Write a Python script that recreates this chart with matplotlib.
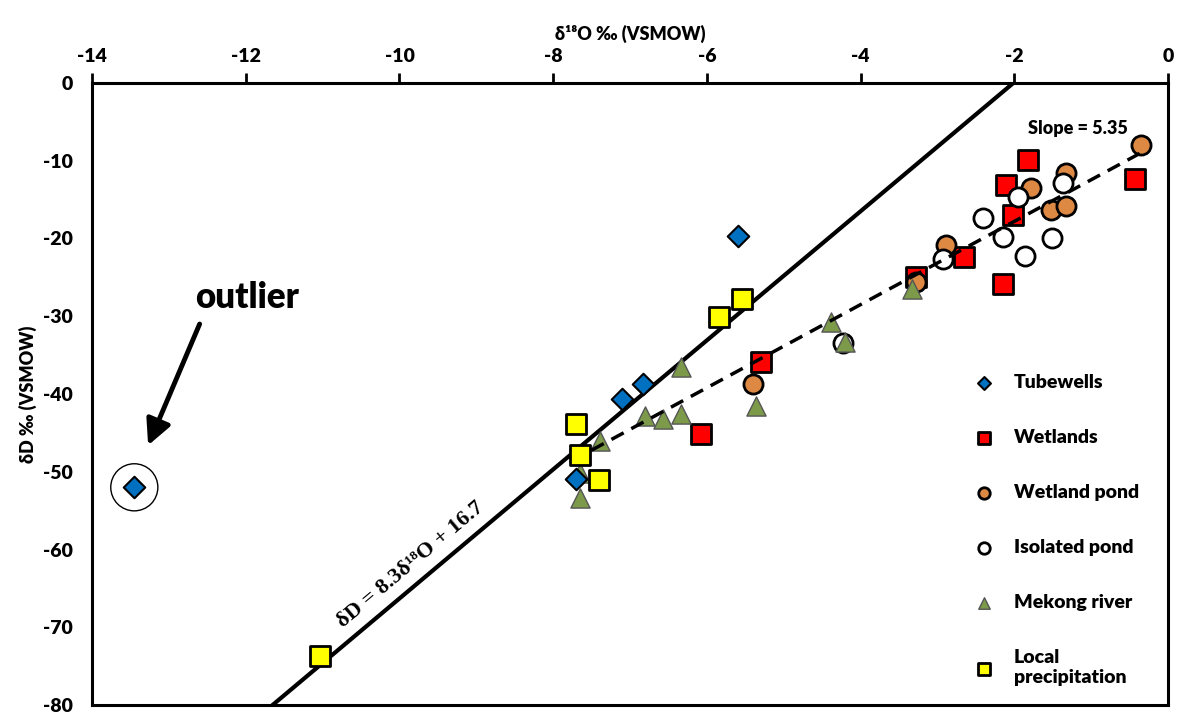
import numpy as np
import matplotlib.pyplot as plt

plt.rcParams['font.family'] = ['Lato', 'DejaVu Sans']
plt.rcParams['font.weight'] = 'heavy'
plt.rcParams['axes.unicode_minus'] = False

# delta-18O (x) and delta-D (y), per mil VSMOW
tube_x = [-5.60, -6.83, -7.10, -7.70, -13.45]
tube_y = [-19.7, -38.7, -40.6, -50.9, -52.0]

wet_x = [-1.82, -2.11, -0.43, -2.02, -2.15, -2.65, -3.28, -5.29, -6.07]
wet_y = [-9.9, -13.1, -12.3, -17.0, -25.9, -22.4, -24.9, -35.9, -45.1]

wpond_x = [-0.35, -1.33, -1.78, -1.52, -1.33, -2.89, -3.28, -5.40]
wpond_y = [-8.0, -11.6, -13.5, -16.3, -15.8, -20.8, -25.6, -38.7]

ipond_x = [-1.37, -1.95, -2.41, -2.15, -1.51, -1.86, -2.93, -4.23]
ipond_y = [-12.9, -14.6, -17.3, -19.8, -19.9, -22.3, -22.6, -33.4]

mek_x = [-3.33, -4.38, -4.20, -5.36, -6.33, -6.33, -6.57, -6.80, -7.39, -7.65, -7.65]
mek_y = [-26.5, -30.8, -33.3, -41.5, -36.5, -42.6, -43.2, -42.8, -46.0, -50.1, -53.4]

rain_x = [-5.54, -5.84, -7.70, -7.65, -7.40, -11.04]
rain_y = [-27.8, -30.1, -43.8, -47.8, -51.1, -73.7]

# local meteoric water line and evaporation line
lmwl_slope, lmwl_icept = 8.3, 16.7
evap_slope, evap_icept = 5.35, -7.1
evap_range = [-7.5, -0.35]

fig = plt.figure(figsize=(11.83, 7.13), dpi=100)
ax = fig.add_axes([0.0778, 0.0112, 0.9095, 0.8724])
ax.set_xlim(-14, 0)
ax.set_ylim(-80, 0)

# lines
lx = np.array([-14, 0])
ax.plot(lx, lmwl_slope * lx + lmwl_icept, color='black', lw=3, zorder=2)
ex = np.array(evap_range)
ax.plot(ex, evap_slope * ex + evap_icept, color='black', lw=2.5,
        dashes=(4, 2.5), zorder=4)

# series
ms = 190
ax.scatter(wet_x, wet_y, s=ms, marker='s', c='#FF0000', edgecolors='black',
           linewidths=2, zorder=3, label='Wetlands')
ax.scatter(wpond_x, wpond_y, s=ms, marker='o', c='#DD8843', edgecolors='black',
           linewidths=2, zorder=3, label='Wetland pond')
ax.scatter(ipond_x, ipond_y, s=ms, marker='o', c='white', edgecolors='black',
           linewidths=2, zorder=3, label='Isolated pond')
ax.scatter(mek_x, mek_y, s=ms, marker='^', c='#7C9A4A', edgecolors='#555555',
           linewidths=1, zorder=3, label='Mekong river')
ax.scatter(rain_x, rain_y, s=ms, marker='s', c='#FFFF00', edgecolors='black',
           linewidths=2, zorder=3, label='Local\nprecipitation')
ax.scatter(tube_x, tube_y, s=120, marker='D', c='#0070C0', edgecolors='black',
           linewidths=1.5, zorder=3, label='Tubewells')

# outlier mark
ax.scatter([tube_x[-1]], [tube_y[-1]], s=1150, marker='o', facecolors='none',
           edgecolors='black', linewidths=1, zorder=3)
ax.annotate('', xy=(-13.27, -46.6), xytext=(-12.6, -31.0),
            arrowprops=dict(arrowstyle='-|>', lw=3.5, color='black',
                            mutation_scale=38, shrinkA=0, shrinkB=0))
ax.text(-11.98, -27.6, 'outlier', fontsize=25, fontweight='heavy',
        ha='center', va='center')

ax.text(-1.17, -5.9, 'Slope = 5.35', fontsize=13, fontweight='heavy',
        ha='center', va='center')

# equation along the meteoric line
p0 = ax.transData.transform((-12, lmwl_slope * -12 + lmwl_icept))
p1 = ax.transData.transform((-2, lmwl_slope * -2 + lmwl_icept))
ang = np.degrees(np.arctan2(p1[1] - p0[1], p1[0] - p0[0]))
ax.text(-9.85, -62.0, 'δD = 8.3δ¹⁸O + 16.7', fontsize=16, fontweight='bold',
        family=['Liberation Serif', 'DejaVu Serif'],
        ha='center', va='center', rotation=ang, rotation_mode='anchor')

# axes styling
ax.xaxis.tick_top()
ax.xaxis.set_label_position('top')
ax.set_xticks(range(-14, 1, 2))
ax.set_yticks(range(-80, 1, 10))
ax.tick_params(axis='x', direction='out', length=7, width=2, labelsize=14, pad=6)
ax.tick_params(axis='y', length=0, labelsize=14, pad=14)
for sp in ax.spines.values():
    sp.set_linewidth(2.2)
ax.set_xlabel('δ¹⁸O ‰ (VSMOW)', fontsize=13, fontweight='heavy', labelpad=6)
ax.set_ylabel('δD ‰ (VSMOW)', fontsize=13, fontweight='heavy', labelpad=4)

# legend
handles, labels = ax.get_legend_handles_labels()
order = [5, 0, 1, 2, 3, 4]
leg = ax.legend([handles[i] for i in order], [labels[i] for i in order],
                loc='upper left', bbox_to_anchor=(0.795, 0.56), frameon=False,
                prop={'size': 14, 'weight': 'heavy'},
                markerscale=0.6, labelspacing=1.95,
                handletextpad=0.5, scatterpoints=1)

fig.savefig('out.png', dpi=100)
